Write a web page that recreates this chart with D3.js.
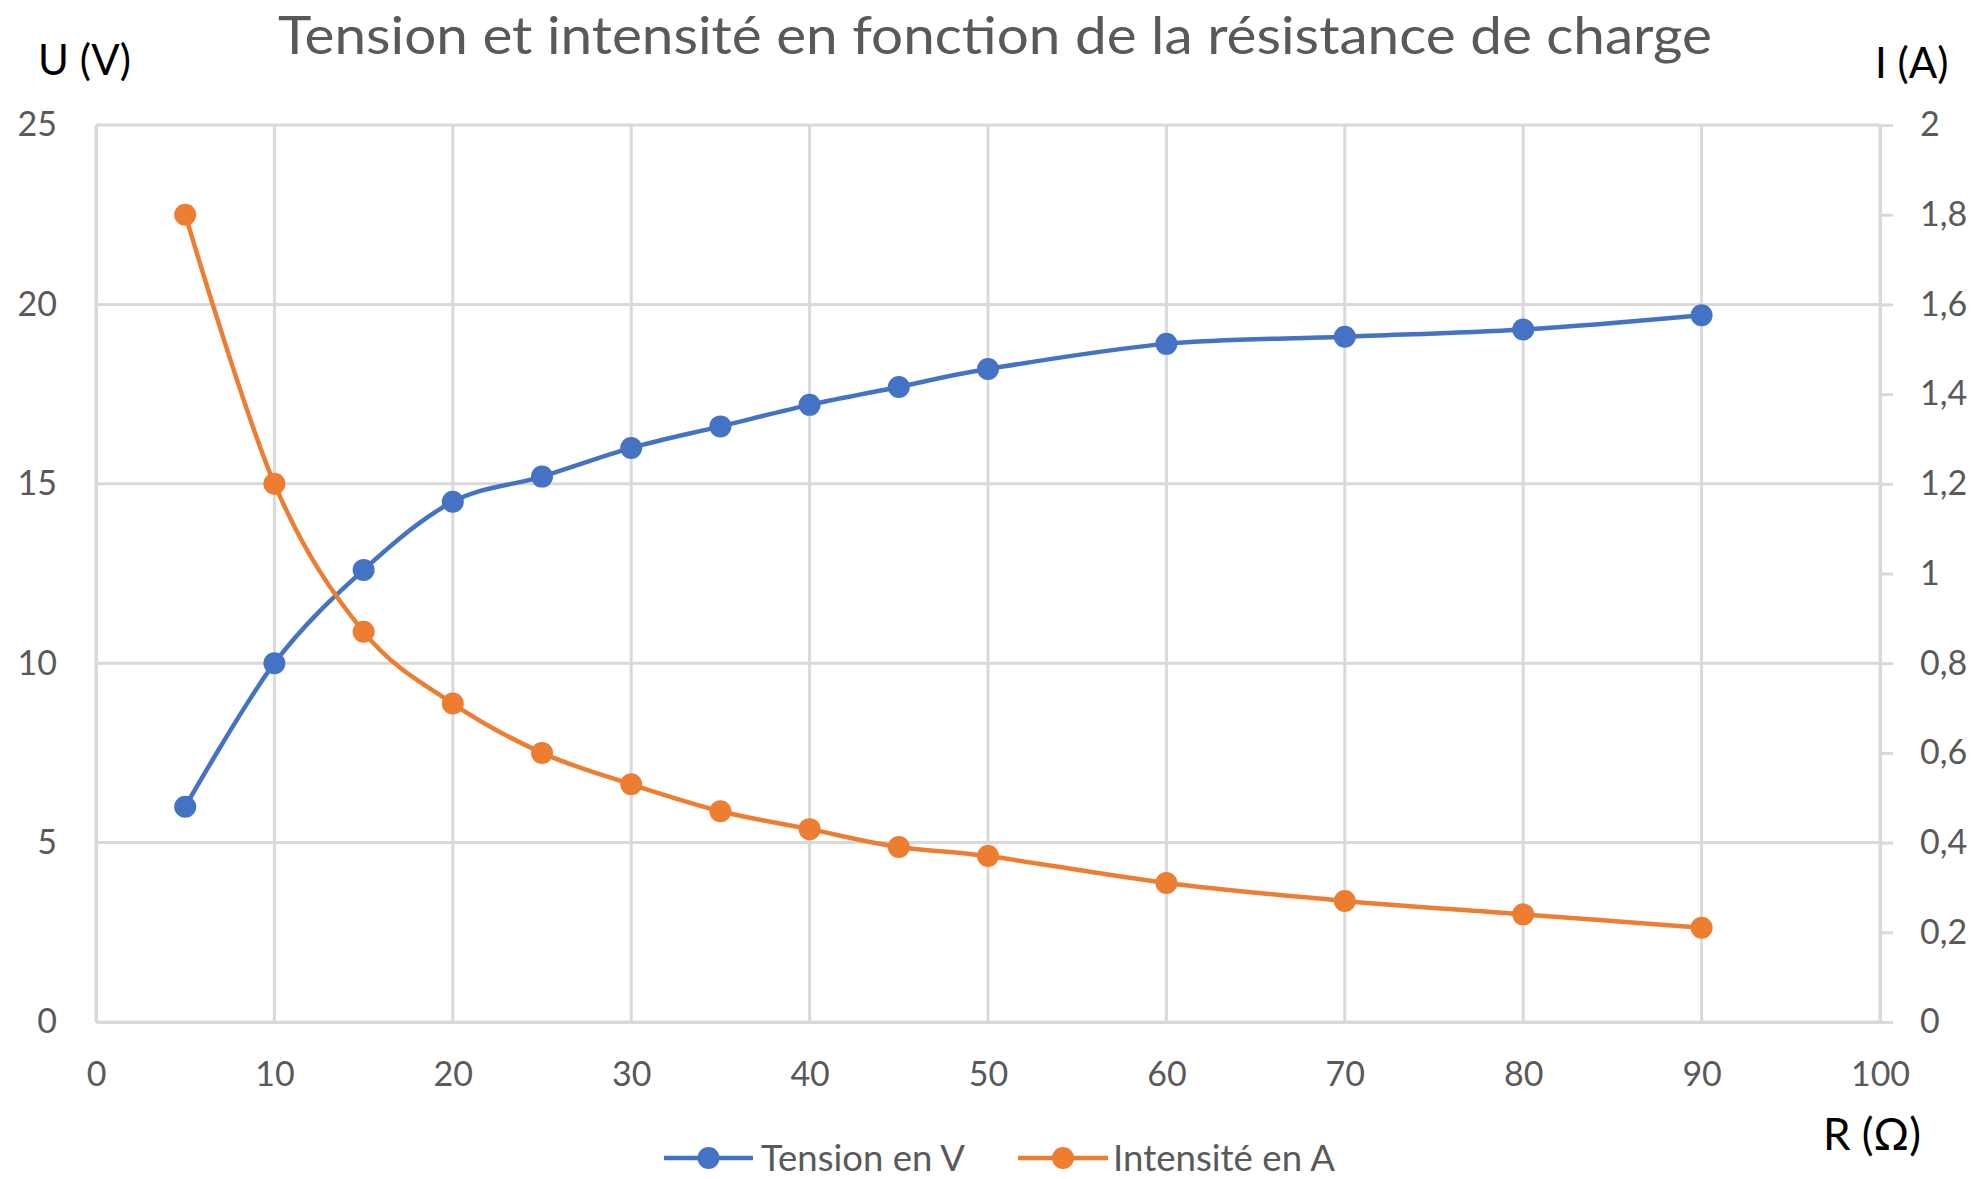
<html>
	<head>
		<meta charset="utf-8">
		<title>Tension et intensité</title>
		<style>
			body { margin: 0; background: #ffffff; }
			text { font-family: Lato, "Open Sans", sans-serif; }
		</style>
	</head>
	<body>

		<div id="chart"></div>

		<script src="https://cdn.jsdelivr.net/npm/d3@7"></script>
		<script>
			(function(){
				"use strict";

				// resistance de charge (ohms)
				var resistances = [5, 10, 15, 20, 25, 30, 35, 40, 45, 50, 60, 70, 80, 90];
				// tension en V
				var tensions = [6.0, 10.0, 12.6, 14.5, 15.2, 16.0, 16.6, 17.2, 17.7, 18.2, 18.9, 19.1, 19.3, 19.7];
				// intensite en A
				var intensites = [1.80, 1.20, 0.87, 0.71, 0.60, 0.53, 0.47, 0.43, 0.39, 0.37, 0.31, 0.27, 0.24, 0.21];

				var xTicks = [0, 10, 20, 30, 40, 50, 60, 70, 80, 90, 100];
				var uTicks = [0, 5, 10, 15, 20, 25];
				var iTicks = [0, 0.2, 0.4, 0.6, 0.8, 1, 1.2, 1.4, 1.6, 1.8, 2];

				var seriesNames = ["Tension en V", "Intensité en A"];
				var seriesColors = ["#4472c4", "#ed7d31"];

				var width = 1977;
				var height = 1179;
				var plot = { left: 96, right: 1880, top: 125, bottom: 1022 };

				var gridColor = "#d9d9d9";
				var labelColor = "#595959";

				var x = d3.scaleLinear().domain([0, 100]).range([plot.left, plot.right]);
				var yU = d3.scaleLinear().domain([0, 25]).range([plot.bottom, plot.top]);
				var yI = d3.scaleLinear().domain([0, 2]).range([plot.bottom, plot.top]);

				var frFormat = function(d){ return String(d).replace(".", ","); };

				var svg = d3.select("#chart")
							.append("svg")
								.attr("width", width)
								.attr("height", height)
								.style("background", "#ffffff");

				// grid lines
				svg.append("g")
					.selectAll("line")
					.data(xTicks)
					.enter().append("line")
						.attr("x1", function(d){ return x(d); })
						.attr("x2", function(d){ return x(d); })
						.attr("y1", plot.top)
						.attr("y2", plot.bottom)
						.style("stroke", gridColor)
						.style("stroke-width", 3);

				svg.append("g")
					.selectAll("line")
					.data(uTicks)
					.enter().append("line")
						.attr("x1", plot.left)
						.attr("x2", plot.right)
						.attr("y1", function(d){ return yU(d); })
						.attr("y2", function(d){ return yU(d); })
						.style("stroke", gridColor)
						.style("stroke-width", 3);

				// left axis
				var leftAxis = svg.append("g")
					.attr("transform", "translate(" + plot.left + ",0)")
					.call(d3.axisLeft(yU).tickValues(uTicks).tickSize(0).tickPadding(39));

				// right axis (secondary) with outward ticks
				var rightAxis = svg.append("g")
					.attr("transform", "translate(" + plot.right + ",0)")
					.call(d3.axisRight(yI).tickValues(iTicks).tickSize(13).tickPadding(27).tickFormat(frFormat));

				// bottom axis
				var bottomAxis = svg.append("g")
					.attr("transform", "translate(0," + plot.bottom + ")")
					.call(d3.axisBottom(x).tickValues(xTicks).tickSize(0).tickPadding(40));

				[leftAxis, rightAxis, bottomAxis].forEach(function(a){
					a.select(".domain").style("stroke", gridColor).style("stroke-width", 3);
					a.selectAll(".tick line").style("stroke", gridColor).style("stroke-width", 3);
					a.selectAll(".tick text")
						.style("fill", labelColor)
						.style("font-size", "34px")
						.style("font-family", "Lato, sans-serif");
				});

				// series
				var series = [
					{ name: seriesNames[0], color: seriesColors[0], values: tensions, y: yU },
					{ name: seriesNames[1], color: seriesColors[1], values: intensites, y: yI }
				];

				series.forEach(function(s){
					var pts = resistances.map(function(r, i){ return [r, s.values[i]]; });
					var line = d3.line()
						.x(function(d){ return x(d[0]); })
						.y(function(d){ return s.y(d[1]); })
						.curve(d3.curveCardinal.tension(0));

					var g = svg.append("g");
					g.append("path")
						.datum(pts)
						.attr("d", line)
						.style("fill", "none")
						.style("stroke", s.color)
						.style("stroke-width", 4.5);

					g.selectAll("circle")
						.data(pts)
						.enter().append("circle")
							.attr("cx", function(d){ return x(d[0]); })
							.attr("cy", function(d){ return s.y(d[1]); })
							.attr("r", 11)
							.style("fill", s.color);
				});

				// title
				svg.append("text")
					.attr("x", 278)
					.attr("y", 54)
					.attr("textLength", 1434)
					.attr("lengthAdjust", "spacingAndGlyphs")
					.style("font-size", "53px")
					.style("fill", labelColor)
					.text("Tension et intensité en fonction de la résistance de charge");

				// axis titles
				svg.append("text")
					.attr("x", 38).attr("y", 75)
					.style("font-size", "42px")
					.style("fill", "#000000")
					.text("U (V)");

				svg.append("text")
					.attr("x", 1875).attr("y", 78)
					.style("font-size", "42px")
					.style("fill", "#000000")
					.text("I (A)");

				svg.append("text")
					.attr("x", 1823).attr("y", 1150)
					.style("font-size", "44px")
					.style("fill", "#000000")
					.text("R (Ω)");

				// legend
				var legendItems = [
					{ name: seriesNames[0], color: seriesColors[0], x0: 664, x1: 753, textX: 761, textW: 204 },
					{ name: seriesNames[1], color: seriesColors[1], x0: 1018, x1: 1108, textX: 1113, textW: 222 }
				];
				var legendY = 1158;
				var legend = svg.append("g")
					.selectAll("g")
					.data(legendItems)
					.enter().append("g");

				legend.append("line")
					.attr("x1", function(d){ return d.x0; })
					.attr("x2", function(d){ return d.x1; })
					.attr("y1", legendY).attr("y2", legendY)
					.style("stroke", function(d){ return d.color; })
					.style("stroke-width", 4.5);

				legend.append("circle")
					.attr("cx", function(d){ return (d.x0 + d.x1) / 2; })
					.attr("cy", legendY)
					.attr("r", 11)
					.style("fill", function(d){ return d.color; });

				legend.append("text")
					.attr("x", function(d){ return d.textX; })
					.attr("y", legendY + 13)
					.attr("textLength", function(d){ return d.textW; })
					.attr("lengthAdjust", "spacingAndGlyphs")
					.style("font-size", "36px")
					.style("fill", labelColor)
					.text(function(d){ return d.name; });

			})();
		</script>

	</body>
</html>
